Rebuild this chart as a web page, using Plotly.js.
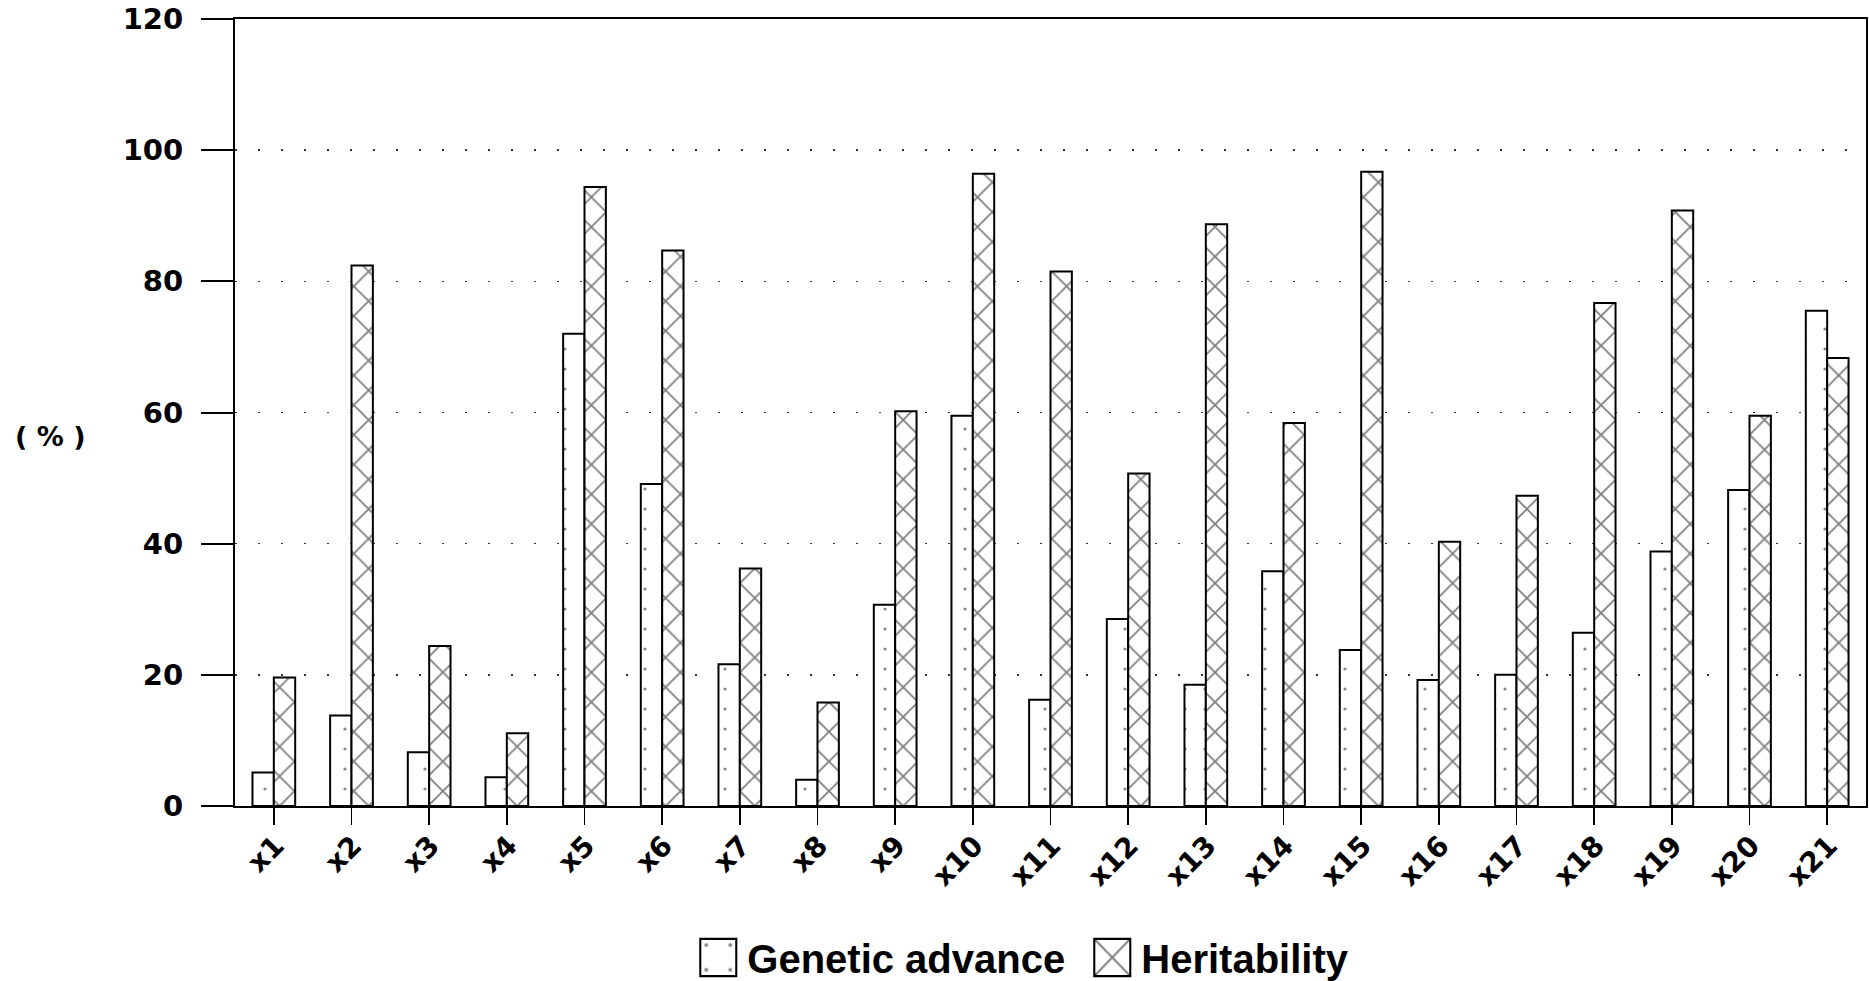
<!DOCTYPE html>
<html>
<head>
<meta charset="utf-8">
<script src="https://cdn.plot.ly/plotly-3.0.1.min.js"></script>
<style>
html,body{margin:0;padding:0;background:#fff;}
#chart{width:1869px;height:981px;}
</style>
</head>
<body>
<div id="chart"></div>
<script>
const categories = ["x1","x2","x3","x4","x5","x6","x7","x8","x9","x10","x11","x12","x13","x14","x15","x16","x17","x18","x19","x20","x21"];
const geneticAdvance = [5.1,13.8,8.2,4.4,72.0,49.1,21.6,4.0,30.7,59.5,16.2,28.5,18.5,35.8,23.8,19.2,20.0,26.4,38.8,48.2,75.5];
const heritability   = [19.6,82.4,24.4,11.1,94.4,84.7,36.2,15.8,60.2,96.4,81.5,50.7,88.7,58.4,96.7,40.3,47.3,76.7,90.8,59.5,68.3];
const seriesNames = ["Genetic advance","Heritability"];
const yTicks = [0,20,40,60,80,100,120];

const traces = [
  {
    type: "bar", name: seriesNames[0], x: categories, y: geneticAdvance,
    marker: {
      color: "white",
      line: {color: "black", width: 2},
      pattern: {shape: ".", fgcolor: "#111", bgcolor: "white", size: 20, solidity: 0.02, fillmode: "overlay"}
    },
    hoverinfo: "x+y"
  },
  {
    type: "bar", name: seriesNames[1], x: categories, y: heritability,
    marker: {
      color: "white",
      line: {color: "black", width: 2},
      pattern: {shape: "x", fgcolor: "black", bgcolor: "white", size: 21, solidity: 0.16, fillmode: "overlay"}
    },
    hoverinfo: "x+y"
  }
];

const layout = {
  width: 1869, height: 981,
  paper_bgcolor: "white", plot_bgcolor: "white",
  margin: {l: 235, r: 3, t: 19, b: 175, autoexpand: false},
  barmode: "group", bargap: 0.45, bargroupgap: 0,
  font: {family: "DejaVu Sans", color: "black"},
  xaxis: {
    type: "category", range: [-0.5, 20.5],
    showline: true, linecolor: "black", linewidth: 2, mirror: true,
    ticks: "outside", ticklen: 17, tickwidth: 1.5, tickcolor: "black",
    tickangle: -45, ticklabelstandoff: -7, ticklabelshift: 2,
    tickfont: {family: "DejaVu Sans", size: 28, weight: "bold", color: "black"},
    showgrid: false, zeroline: false
  },
  yaxis: {
    range: [0, 120], tickvals: yTicks, ticktext: yTicks.map(String),
    showline: true, linecolor: "black", linewidth: 2, mirror: true,
    ticks: "outside", ticklen: 32, tickwidth: 2, tickcolor: "black",
    ticklabelstandoff: 12,
    tickfont: {family: "DejaVu Sans", size: 29, weight: "bold", color: "black"},
    showgrid: true, gridcolor: "#333", gridwidth: 1.5, griddash: "2px,21px",
    zeroline: false
  },
  showlegend: true,
  legend: {
    orientation: "h", x: 0.525, xanchor: "center",
    yref: "container", y: 0.024, yanchor: "middle",
    font: {family: "Liberation Sans", size: 40, weight: "bold", color: "black"},
    itemwidth: 40, tracegroupgap: 0,
    entrywidth: 339, entrywidthmode: "pixels"
  },
  annotations: [
    {text: "( % )", xref: "paper", yref: "paper", x: -0.113, y: 0.469,
     xanchor: "center", yanchor: "middle", showarrow: false,
     font: {family: "DejaVu Sans", size: 27, weight: "bold", color: "black"}}
  ]
};

Plotly.newPlot("chart", traces, layout, {displayModeBar: false, staticPlot: true}).then(function(gd){
  gd.querySelectorAll(".legendpoints path").forEach(function(p){
    const t = p.getAttribute("transform") || "";
    p.setAttribute("transform", t + " translate(-4,0) scale(3,3.1)");
    p.style.strokeWidth = "0.7px";
  });
});
</script>
</body>
</html>
